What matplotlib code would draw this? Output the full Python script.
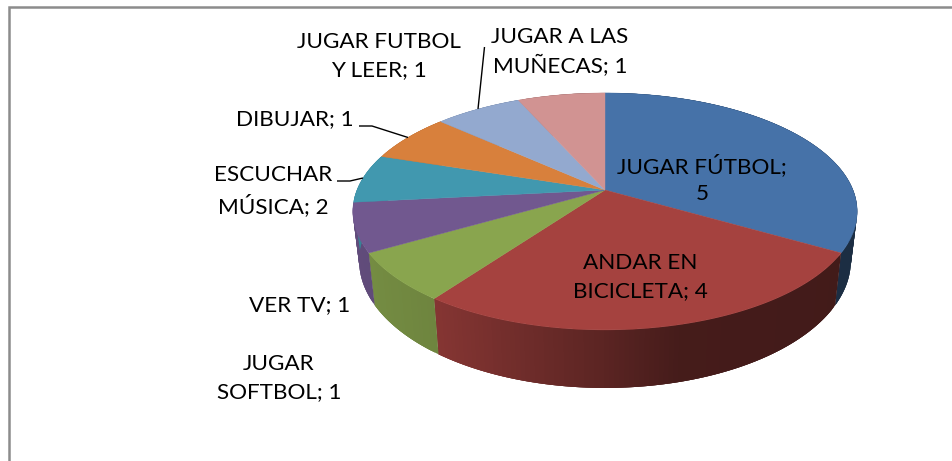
import numpy as np
import matplotlib
matplotlib.use("Agg")
import matplotlib.pyplot as plt
from matplotlib.collections import PolyCollection
from matplotlib.patches import Polygon

categories = ["JUGAR FÚTBOL", "ANDAR EN BICICLETA", "JUGAR SOFTBOL", "VER TV",
              "ESCUCHAR MÚSICA", "DIBUJAR", "JUGAR FUTBOL Y LEER", "JUGAR A LAS MUÑECAS"]
slice_sizes = [5, 4, 1, 1, 1, 1, 1, 1]          # sizes as drawn
label_values = [5, 4, 1, 1, 2, 1, 1, 1]         # values as printed
colors = ["#4672A8", "#A5423F", "#89A54E", "#71588F", "#4198AF", "#D8803C", "#93A9CF", "#D19392"]
label_text = ["JUGAR FÚTBOL;\n5", "ANDAR EN\nBICICLETA; 4", "JUGAR\nSOFTBOL; 1", "VER TV; 1",
              "ESCUCHAR\nMÚSICA; 2", "DIBUJAR; 1", "JUGAR FUTBOL\nY LEER; 1", "JUGAR A LAS\nMUÑECAS; 1"]
label_pos = [(702, 179), (640, 277), (279, 378), (300, 305),
             (273.5, 191), (295, 119), (379, 56), (560, 52)]

CX, CY, A, B, K, D, SHRINK = 605, 190, 248, 114.6, 0.181, 47.5, 0.975


def top(theta):
    u, v = np.sin(theta), np.cos(theta)
    w = 1 + K * v
    return CX + A * u / w, CY - B * v / w


def bottom(theta):
    u, v = np.sin(theta), np.cos(theta)
    w = 1 + K * v
    return CX + SHRINK * A * u / w, CY - B * v / w + D / w


def shade(hex_color, x):
    f = np.interp(x, [353, 439, 605, 680, 860], [0.86, 0.80, 0.55, 0.42, 0.40])
    return tuple(np.array(matplotlib.colors.to_rgb(hex_color)) * f)


plt.rcParams["font.family"] = ["Lato", "DejaVu Sans"]
fig = plt.figure(figsize=(9.52, 4.61), dpi=100)
ax = fig.add_axes([0, 0, 1, 1])
ax.set_xlim(0, 952)
ax.set_ylim(461, 0)
ax.axis("off")

# chart frame
ax.plot([8.5, 8.5, 952], [461, 7.5, 7.5], color="#8C8C8C", lw=1.8, solid_joinstyle="miter")

edges = np.cumsum([0] + slice_sizes) / sum(slice_sizes) * 2 * np.pi

# outer wall: each quad overlaps the next one so no seams show
for c, a0, a1 in zip(colors, edges[:-1], edges[1:]):
    t = np.linspace(a0, a1, max(int((a1 - a0) * 60), 4))
    xt, yt = top(t)
    xb, yb = bottom(t)
    n = len(t)
    quads, cols = [], []
    for i in range(n - 1):
        j = min(i + 3, n - 1)
        seg = [(xt[k], yt[k]) for k in range(i, j + 1)] + [(xb[k], yb[k]) for k in range(j, i - 1, -1)]
        quads.append(seg)
        cols.append(shade(c, (xt[i] + xt[i + 1]) / 2))
    ax.add_collection(PolyCollection(quads, facecolors=cols, edgecolors="none", linewidths=0))

# top faces
for c, a0, a1 in zip(colors, edges[:-1], edges[1:]):
    t = np.linspace(a0, a1, 120)
    xt, yt = top(t)
    pts = np.column_stack([np.r_[CX, xt], np.r_[CY, yt]])
    ax.add_patch(Polygon(pts, closed=True, facecolor=c, edgecolor=c, lw=0.3))

# leader lines
line_kw = dict(color="black", lw=1.0, solid_capstyle="butt")
ax.plot([484.5, 478], [47, 109], **line_kw)
ax.plot([359, 372, 408], [126, 126, 137.5], **line_kw)
ax.plot([337, 350, 363], [181, 181, 178], **line_kw)

for txt, (x, y) in zip(label_text, label_pos):
    ax.text(x, y, txt, ha="center", va="center", ma="center", fontsize=16.2,
            color="black", linespacing=1.46)

fig.savefig("out.png", dpi=100, facecolor="white")
